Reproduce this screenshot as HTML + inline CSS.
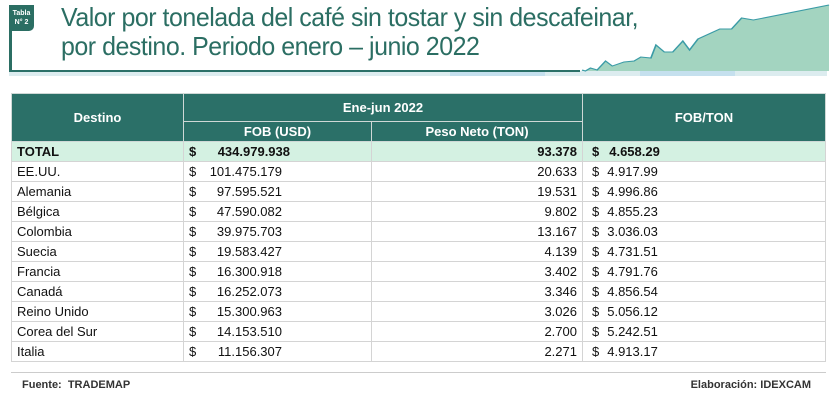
<!DOCTYPE html>
<html><head><meta charset="utf-8"><style>
body{margin:0;width:835px;height:400px;background:#fff;font-family:"Liberation Sans",sans-serif;position:relative;overflow:hidden}
.title{position:absolute;left:61px;top:3px;font-size:26px;line-height:29px;color:#2b6e63;letter-spacing:-0.5px;white-space:nowrap;transform:scaleX(0.96);transform-origin:left top}
.badge{position:absolute;left:9px;top:5px;width:25px;height:26px;background:#2b6e63;color:#fff;font-size:7px;font-weight:bold;text-align:center;line-height:9px;padding-top:4px;box-sizing:border-box;border-radius:0 0 5px 0}
.vline{position:absolute;left:9px;top:5px;width:3px;height:67px;background:#2b6e63}
table{position:absolute;left:11px;top:93px;width:815px;border-collapse:collapse;font-size:13px;color:#111}
td,th{border:1px solid #d4d4d4;padding:0 5px;height:19px;line-height:19px}
th{background:#2b7068;color:#fff;font-weight:bold;font-size:13px;border-color:#cfd8d6}
.tot td{background:#d4f1e2;font-weight:bold;height:19px}
.n{text-align:right}
.d{display:flex;justify-content:space-between}
.foot{position:absolute;top:379px;font-size:11px;font-weight:bold;color:#333}
</style></head><body>
<div class="vline"></div>
<div class="badge">Tabla<br>N° 2</div>
<div class="title">Valor por tonelada del café sin tostar y sin descafeinar,<br>por destino. Periodo enero – junio 2022</div>
<svg style="position:absolute;left:0;top:0" width="835" height="80">
<rect x="9" y="71" width="818" height="5" fill="#dcecef"/>
<rect x="450" y="71" width="95" height="5" fill="#c5e0ee"/>
<rect x="640" y="71" width="95" height="5" fill="#c5e0ee"/>
<line x1="9" y1="71" x2="580" y2="71" stroke="#2b7068" stroke-width="2"/>
<g transform="translate(-95,0) scale(1.68,1)">
<polygon points="403,70 405,71 408,68 412,70 417,61 421,66 428,62 434,61 438,57 444,58 447,45 452,52 457,52 463,41 467,50 472,39 485,29 492,29 498,18 505,20 550,5 550,71 403,71" fill="#8cc9b0" opacity="0.8"/>
<polyline points="403,70 405,71 408,68 412,70 417,61 421,66 428,62 434,61 438,57 444,58 447,45 452,52 457,52 463,41 467,50 472,39 485,29 492,29 498,18 505,20 550,5" fill="none" stroke="#3a9ba6" stroke-width="1"/>
</g>
</svg>
<table>
<colgroup><col style="width:172px"><col style="width:188px"><col style="width:211px"><col></colgroup>
<tr><th rowspan="2">Destino</th><th colspan="2" style="height:27px">Ene-jun 2022</th><th rowspan="2">FOB/TON</th></tr>
<tr><th style="height:19px">FOB (USD)</th><th>Peso Neto (TON)</th></tr>
<tr class="tot"><td>TOTAL</td><td><div class="d"><span>$</span><span style="margin-right:76px">434.979.938</span></div></td><td class="n">93.378</td><td><span style="margin-left:4px">$</span><span style="margin-left:10px">4.658.29</span></td></tr>
</table>
<script>
var dest=["EE.UU.","Alemania","Bélgica","Colombia","Suecia","Francia","Canadá","Reino Unido","Corea del Sur","Italia"];
var fob=["101.475.179","97.595.521","47.590.082","39.975.703","19.583.427","16.300.918","16.252.073","15.300.963","14.153.510","11.156.307"];
var peso=["20.633","19.531","9.802","13.167","4.139","3.402","3.346","3.026","2.700","2.271"];
var perTon=["4.917.99","4.996.86","4.855.23","3.036.03","4.731.51","4.791.76","4.856.54","5.056.12","5.242.51","4.913.17"];
var t=document.querySelector('table');
for(var i=0;i<dest.length;i++){
 var tr=document.createElement('tr');
 
 
 tr.innerHTML='<td>'+dest[i]+'</td><td><div class="d"><span>$</span><span style="margin-right:84px">'+fob[i]+'</span></div></td><td class="n">'+peso[i]+'</td><td><span style="margin-left:4px">$</span><span style="margin-left:8px">'+perTon[i]+'</span></td>';
 t.appendChild(tr);
}
</script>
<div style="position:absolute;left:11px;top:372px;width:815px;height:1px;background:#ccc"></div>
<div class="foot" style="left:22px">Fuente:&nbsp; TRADEMAP</div>
<div class="foot" style="right:24px">Elaboración: IDEXCAM</div>
</body></html>
